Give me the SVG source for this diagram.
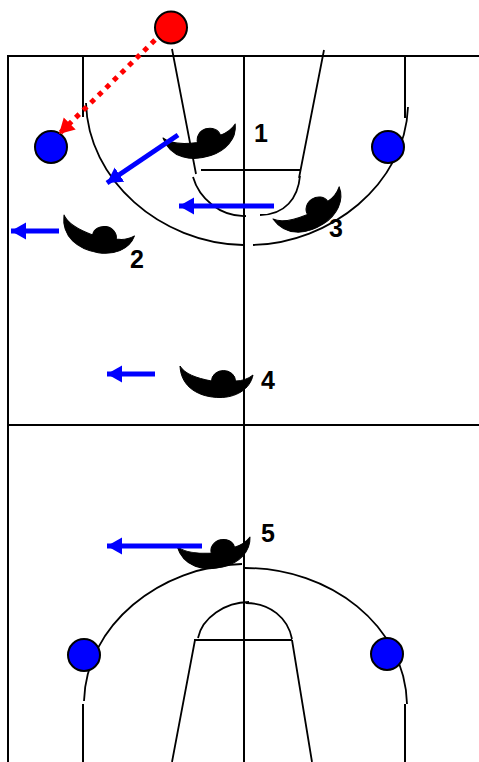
<svg xmlns="http://www.w3.org/2000/svg" width="479" height="762" viewBox="0 0 479 762">
<style>
.court{fill:none;stroke:#000;stroke-width:2}
.thin{fill:none;stroke:#000;stroke-width:1.8}
.off{fill:#00f;stroke:#000;stroke-width:2}
.move{stroke:#00f;stroke-width:5;fill:none;marker-end:url(#blueHead)}
.pass{stroke:#f00;stroke-width:5;stroke-dasharray:5 5.6;fill:none;marker-end:url(#redHead)}
.num{font-family:"Liberation Sans",Arial,sans-serif;font-weight:bold;font-size:25px;fill:#000}
</style>
<defs>
<marker id="blueHead" markerUnits="userSpaceOnUse" markerWidth="18" markerHeight="18" refX="15" refY="9" orient="auto"><path d="M0,0.5L15,9L0,17.5z" fill="#00f"/></marker>
<marker id="redHead" markerUnits="userSpaceOnUse" markerWidth="18" markerHeight="18" refX="15" refY="9" orient="auto"><path d="M0,0.5L15,9L0,17.5z" fill="#f00"/></marker>
<g id="defender">
<path d="M180,366C185,374 196,378 211.500,381A12,10.500 0 1 1 235.500,381C242,381 248,379 253,375C250,390 235,397.500 220,397.500C200,397.500 181,388 180,366z" fill="#000" stroke="#000" stroke-width="1" stroke-linejoin="round"/>
</g>
</defs>
<g id="court">
<path class="court" d="M479,56H8V762M8,425H479M244,56V762M83,56V117M405,56V118M83,704V762M405,704V762"/>
<path class="thin" d="M172,49L196,174M201,170H300M324,50L299,178M193,177C199,198 220,217 246,216M260,215C285,215 298,198 300,176"/>
<path class="thin" d="M86,103C88,180 160,243 243,245M253,245C330,243 405,185 408,107"/>
<path class="thin" d="M84,701C86,625 160,566 242,564M245,568C330,568 405,625 407,704"/>
<path class="thin" d="M198,638C202,618 225,602 249,602M246,603C270,603 288,618 292,639M194,640H292M195,640L172,762M292,640L312,762"/>
</g>
<g id="defender-1"><use href="#defender" transform="translate(163,138) rotate(-18) translate(-180,-366)"/><text class="num" x="254" y="142">1</text></g>
<g id="defender-2"><use href="#defender" transform="translate(64,215) rotate(9.5) translate(-180,-366)"/><text class="num" x="130" y="268">2</text></g>
<g id="defender-3"><use href="#defender" transform="translate(273,219) rotate(-33) translate(-180,-366)"/><text class="num" x="329" y="237">3</text></g>
<g id="defender-4"><use href="#defender"/><text class="num" x="261" y="389">4</text></g>
<g id="defender-5"><use href="#defender" transform="translate(177,546) rotate(-14) translate(-180,-366)"/><text class="num" x="261" y="542">5</text></g>
<g id="ball-handler"><circle cx="171" cy="27.500" r="16" fill="#f00" stroke="#000" stroke-width="2"/></g>
<g id="wing-top-left"><circle class="off" cx="51" cy="147" r="16"/></g>
<g id="wing-top-right"><circle class="off" cx="388" cy="147" r="16"/></g>
<g id="wing-bottom-left"><circle class="off" cx="84" cy="655" r="16"/></g>
<g id="wing-bottom-right"><circle class="off" cx="387" cy="654" r="16"/></g>
<g id="connectors">
<path class="pass" d="M155,40L59,134"/>
<path class="move" d="M178,135L107,183"/>
<path class="move" d="M59,231H11"/>
<path class="move" d="M274,206H179"/>
<path class="move" d="M155,374H107"/>
<path class="move" d="M202,546H107"/>
</g>
</svg>
